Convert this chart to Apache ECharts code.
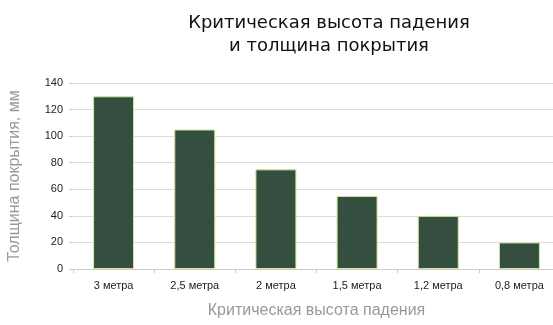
<!DOCTYPE html>
<html>
<head>
<meta charset="utf-8">
<script src="https://cdn.jsdelivr.net/npm/echarts@6/dist/echarts.min.js"></script>
<style>
html,body{margin:0;padding:0;background:#fff;}
#chart{width:553px;height:325px;}
</style>
</head>
<body>
<div id="chart"></div>
<script>
// данные
var heights = ['3 метра', '2,5 метра', '2 метра', '1,5 метра', '1,2 метра', '0,8 метра'];
var thickness = [130, 105, 75, 55, 40, 20];
var yTicks = [0, 140, 20]; // min, max, шаг

var chart = echarts.init(document.getElementById('chart'));
var option = {
    backgroundColor: '#fff',
    animation: false,
    title: {
        text: 'Критическая высота падения\nи толщина покрытия',
        left: 324,
        top: 7,
        textAlign: 'center',
        textStyle: {
            fontFamily: 'DejaVu Sans',
            fontSize: 18,
            fontWeight: 'normal',
            color: '#111',
            lineHeight: 23
        }
    },
    grid: {
        left: 73,
        top: 83,
        width: 487,
        height: 186,
        outerBoundsMode: 'none'
    },
    xAxis: {
        type: 'category',
        data: heights,
        name: 'Критическая высота падения',
        nameLocation: 'middle',
        nameGap: 34,
        nameTextStyle: {
            fontFamily: 'Liberation Sans',
            fontSize: 16,
            color: '#999'
        },
        axisLine: { lineStyle: { color: '#ccc' } },
        axisTick: { show: true, length: 4, lineStyle: { color: '#ccc' } },
        axisLabel: {
            fontFamily: 'Liberation Sans',
            fontSize: 11,
            color: '#222',
            margin: 11
        }
    },
    yAxis: {
        type: 'value',
        min: yTicks[0],
        max: yTicks[1],
        interval: yTicks[2],
        name: 'Толщина покрытия, мм',
        nameLocation: 'middle',
        nameGap: 50,
        nameTextStyle: {
            fontFamily: 'Liberation Sans',
            fontSize: 16,
            color: '#999'
        },
        axisLine: { show: false },
        axisTick: { show: true, length: 4, lineStyle: { color: '#ccc' } },
        axisLabel: {
            fontFamily: 'Liberation Sans',
            fontSize: 11,
            color: '#222',
            margin: 10
        },
        splitLine: { lineStyle: { color: '#dcdcdc', width: 1 } }
    },
    series: [
        {
            type: 'bar',
            data: thickness,
            barWidth: 41,
            itemStyle: {
                color: '#344f3f',
                borderColor: '#d4e59a',
                borderWidth: 1
            }
        }
    ]
};
chart.setOption(option);
</script>
</body>
</html>
